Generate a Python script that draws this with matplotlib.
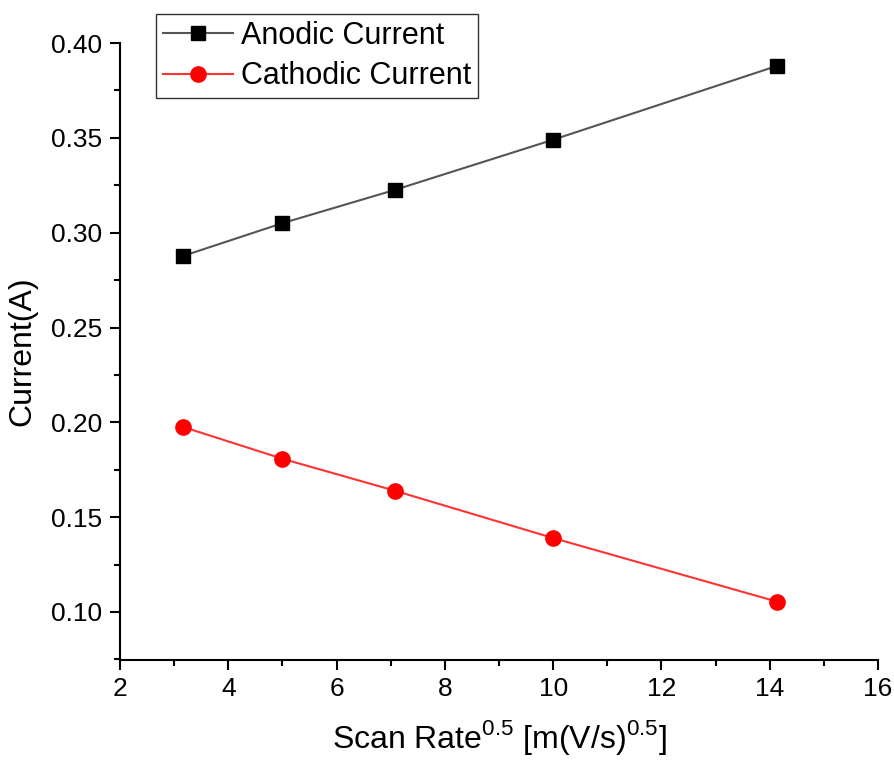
import matplotlib
matplotlib.use("Agg")
import matplotlib.pyplot as plt
from matplotlib.ticker import MultipleLocator, FormatStrFormatter

plt.rcParams['font.family'] = ['Liberation Sans', 'DejaVu Sans']
plt.rcParams['mathtext.fontset'] = 'custom'
plt.rcParams['mathtext.rm'] = 'Liberation Sans'

# scan rate^0.5 and peak currents
scan_rate_sqrt = [3.162, 5.0, 7.071, 10.0, 14.142]
anodic = [0.2877, 0.305, 0.3225, 0.349, 0.388]
cathodic = [0.1976, 0.1808, 0.164, 0.139, 0.1054]

fig = plt.figure(figsize=(8.94, 7.6), dpi=100)
ax = fig.add_axes([0.1342, 0.1316, 0.8479, 0.8118])

ax.plot(scan_rate_sqrt, anodic, color="#555555", lw=1.5, marker="s",
        ms=10, mfc="black", mec="black", label="Anodic Current")
ax.plot(scan_rate_sqrt, cathodic, color="#ff3333", lw=1.5, marker="o",
        ms=11, mfc="red", mec="red", label="Cathodic Current")

ax.set_xlim(2, 16)
ax.set_ylim(0.0747, 0.40)
ax.xaxis.set_major_locator(MultipleLocator(2))
ax.xaxis.set_minor_locator(MultipleLocator(1))
ax.yaxis.set_major_locator(MultipleLocator(0.05))
ax.yaxis.set_minor_locator(MultipleLocator(0.025))
ax.yaxis.set_major_formatter(FormatStrFormatter("%.2f"))

for s in ["top", "right"]:
    ax.spines[s].set_visible(False)
for s in ["left", "bottom"]:
    ax.spines[s].set_linewidth(1.5)

ax.tick_params(which="major", direction="out", length=7.5, width=1.5,
               labelsize=19, pad=5)
ax.tick_params(which="minor", direction="out", length=4, width=1.5)

ax.set_xlabel(r"Scan Rate$^{0.5}$ [m(V/s)$^{0.5}$]", fontsize=23, labelpad=12)
ax.set_ylabel("Current(A)", fontsize=23, labelpad=10)

leg = fig.legend(loc="upper left", bbox_to_anchor=(156 / 894, 1 - 14 / 760),
                 fontsize=22, frameon=True, fancybox=False, framealpha=1,
                 handlelength=2.3, handletextpad=0.25, borderpad=0.22,
                 labelspacing=0.35, borderaxespad=0)
leg.get_frame().set_edgecolor("#333333")
leg.get_frame().set_linewidth(1.0)

fig.savefig("out.png", dpi=100)
